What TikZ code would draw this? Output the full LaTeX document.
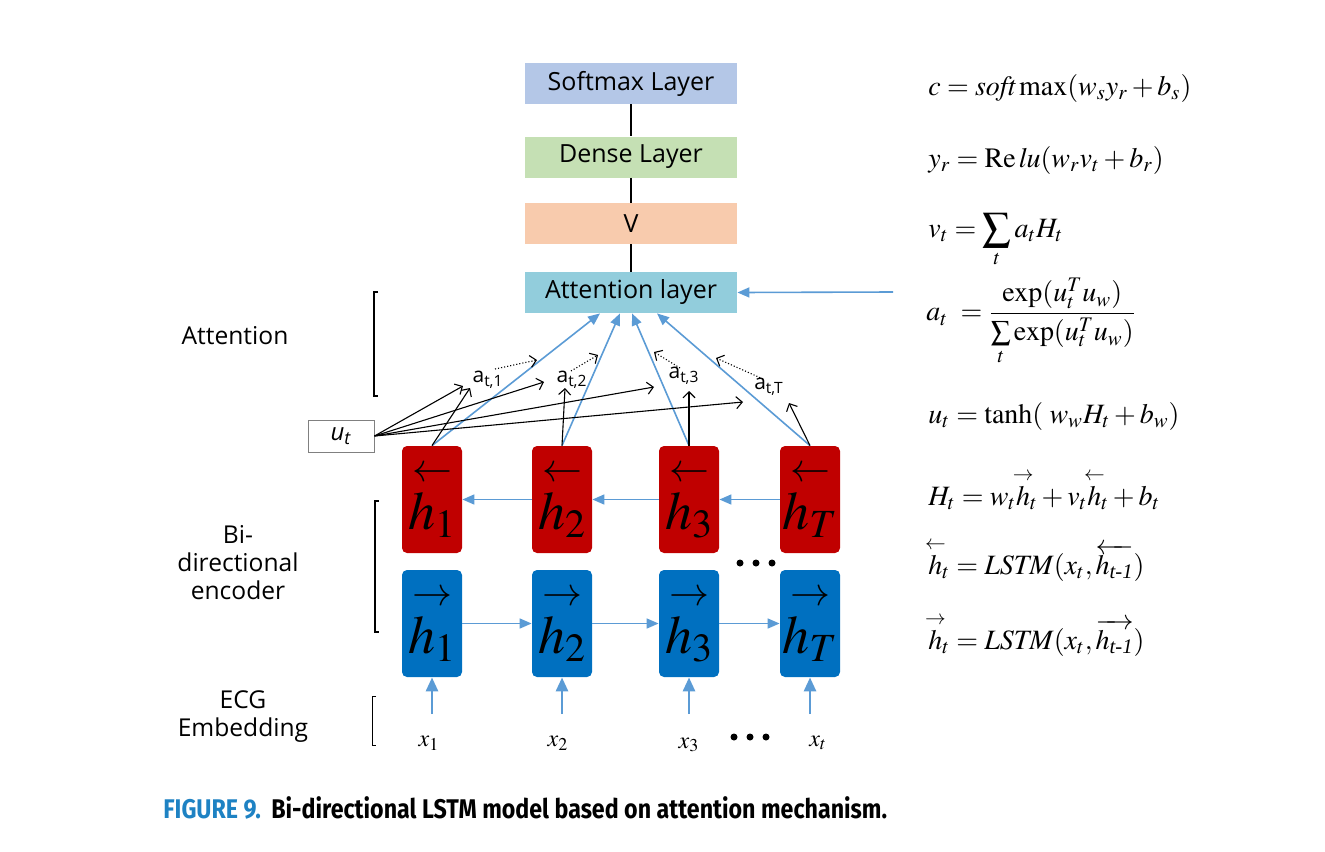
\documentclass[tikz,border=0pt]{standalone}
\usepackage{mathptmx}
\usepackage{amsmath}
\usepackage{graphicx}
\usepackage{fontspec}
\setmainfont{Liberation Serif}
\newfontfamily\lab{Open Sans}
\newfontfamily\capf{Fira Sans}
\usetikzlibrary{calc,arrows.meta}
\newcommand{\sra}[1]{\overset{\makebox[0pt]{$\scriptstyle\rightarrow$}}{#1}}
\newcommand{\sla}[1]{\overset{\makebox[0pt]{$\scriptstyle\leftarrow$}}{#1}}
\definecolor{smx}{RGB}{180,199,231}
\definecolor{dns}{RGB}{197,224,180}
\definecolor{vv}{RGB}{248,203,173}
\definecolor{attc}{RGB}{146,205,220}
\definecolor{redb}{RGB}{192,0,0}
\definecolor{blueb}{RGB}{0,112,192}
\definecolor{arrc}{RGB}{91,155,213}
\definecolor{capblue}{RGB}{30,130,195}
\tikzset{
  layer/.style={fill=#1, minimum width=106pt, minimum height=20.5pt, inner sep=0pt,
    font=\lab\fontsize{12.5}{14}\selectfont},
  hbox/.style={fill=#1, rounded corners=2.5pt, minimum width=30pt, minimum height=53.5pt, inner sep=0pt,
    font=\fontsize{27}{27}\selectfont},
  bluearr/.style={draw=arrc, line width=0.8pt, -{Triangle[length=6pt,width=5pt]}},
  thickarr/.style={draw=arrc, line width=1.4pt, -{Triangle[length=7pt,width=6pt]}},
  blkarr/.style={draw=black, line width=0.55pt, -{Straight Barb[length=3pt,width=6pt]}},
  dotarr/.style={draw=black, line width=0.55pt, densely dotted, -{Straight Barb[length=3pt,width=6pt]}},
  plainline/.style={draw=black, line width=0.6pt},
  brk/.style={draw=black, line width=1.3pt},
  sidelab/.style={font=\lab\fontsize{12.3}{14}\selectfont, align=center, inner sep=0pt},
  alab/.style={font=\lab\fontsize{10.5}{12}\selectfont, inner sep=0pt},
  eq/.style={anchor=west, inner sep=0pt, font=\fontsize{14}{16}\selectfont},
  xlab/.style={inner sep=0pt, font=\fontsize{12}{14}\selectfont},
  dotc/.style={fill=black, circle, minimum size=3.5pt, inner sep=0pt}
}
\begin{document}
\begin{tikzpicture}[x=0.5pt,y=-0.5pt]
\useasboundingbox (0,0) rectangle (1325,851);
% top layers
\node[layer=smx] (soft) at (631,83.5) {Softmax Layer};
\node[layer=dns] (dense) at (631,157) {Dense Layer};
\node[layer=vv] (v) at (631,223.5) {V};
\node[layer=attc] (att) at (631,292.5) {Attention layer};
\draw[plainline] (soft.south) -- (dense.north);
\draw[plainline] (dense.south) -- (v.north);
\draw[plainline] (v.south) -- (att.north);
\coordinate (rin) at (893,292);
\draw[bluearr] (rin) -- (att.east);
% hidden boxes
\node[hbox=redb] (r1) at (432,499.5) {$\overset{\scriptstyle\leftarrow}{h_1}$};
\node[hbox=redb] (r2) at (562,499.5) {$\overset{\scriptstyle\leftarrow}{h_2}$};
\node[hbox=redb] (r3) at (689,499.5) {$\overset{\scriptstyle\leftarrow}{h_3}$};
\node[hbox=redb] (r4) at (810,499.5) {$\overset{\scriptstyle\leftarrow}{h_T}$};
\node[hbox=blueb] (b1) at (432,623.5) {$\overset{\scriptstyle\rightarrow}{h_1}$};
\node[hbox=blueb] (b2) at (562,623.5) {$\overset{\scriptstyle\rightarrow}{h_2}$};
\node[hbox=blueb] (b3) at (689,623.5) {$\overset{\scriptstyle\rightarrow}{h_3}$};
\node[hbox=blueb] (b4) at (810,623.5) {$\overset{\scriptstyle\rightarrow}{h_T}$};
\draw[bluearr] (r4) -- (r3);
\draw[bluearr] (r3) -- (r2);
\draw[bluearr] (r2) -- (r1);
\draw[bluearr] (b1) -- (b2);
\draw[bluearr] (b2) -- (b3);
\draw[bluearr] (b3) -- (b4);
% dots
\node[dotc] (d1) at (740,563) {};
\node[dotc] (d2) at (756,563) {};
\node[dotc] (d3) at (772,563) {};
\node[dotc] (e1) at (734,737) {};
\node[dotc] (e2) at (750,737) {};
\node[dotc] (e3) at (766,737) {};
% inputs
\node[xlab] (x1) at (429,743) {$x_1$};
\node[xlab] (x2) at (558,743) {$x_2$};
\node[xlab] (x3) at (689,745) {$x_3$};
\node[xlab] (x4) at (818,743) {$x_t$};
\coordinate (i1) at (432,714);
\coordinate (i2) at (562,714);
\coordinate (i3) at (689,714);
\coordinate (i4) at (810,714);
\draw[thickarr] (i1) -- (b1.south);
\draw[thickarr] (i2) -- (b2.south);
\draw[thickarr] (i3) -- (b3.south);
\draw[thickarr] (i4) -- (b4.south);
% attention weights
\node[alab] (a1) at (488,380) {a\textsubscript{t,1}};
\node[alab] (a2) at (572,380) {a\textsubscript{t,2}};
\node[alab] (a3) at (684,376) {a\textsubscript{t,3}};
\node[alab] (a4) at (769,387) {a\textsubscript{t,T}};
% blue lines to attention layer
\draw[bluearr] (r1.north) -- ($(att.south)+(-31,0)$);
\draw[bluearr] (r2.north) -- ($(att.south)+(-11,0)$);
\draw[bluearr] (r3.north) -- ($(att.south)+(1,0)$);
\draw[bluearr] (r4.north) -- ($(att.south)+(26,0)$);
% u_t
\node[draw=black!50, line width=0.5pt, minimum width=33pt, minimum height=16pt, inner sep=0pt,
  font=\lab\itshape\fontsize{12}{13}\selectfont] (ut) at (341,436) {u\textsubscript{t}};
\coordinate (u1) at (463,386);
\coordinate (u2) at (544,382);
\coordinate (u3) at (654,387);
\coordinate (u4) at (743,402);
\draw[blkarr] (ut.east) -- (u1);
\draw[blkarr] (ut.east) -- (u2);
\draw[blkarr] (ut.east) -- (u3);
\draw[blkarr] (ut.east) -- (u4);
% up arrows from hidden to weights
\coordinate (w1) at (470,388);
\coordinate (w2) at (565,388);
\coordinate (w3) at (689,391);
\coordinate (w4) at (789,403);
\draw[blkarr] (r1.north) -- (w1);
\draw[blkarr] (r2.north) -- (w2);
\draw[blkarr] (r3.north) -- (w3);
\draw[blkarr] (r4.north) -- (w4);
% dotted arrows
\coordinate (s1) at (495,369);
\coordinate (t1) at (537,360);
\coordinate (s2) at (571,371);
\coordinate (t2) at (598,355);
\coordinate (s3) at (680,368);
\coordinate (t3) at (654,352);
\coordinate (s4) at (763,379);
\coordinate (t4) at (716,358);
\draw[dotarr] (s1) -- (t1);
\draw[dotarr] (s2) -- (t2);
\draw[dotarr] (s3) -- (t3);
\draw[dotarr] (s4) -- (t4);
% side labels and brackets
\node[sidelab] (lat) at (235,336) {Attention};
\node[sidelab] (lbi) at (238,563) {Bi-\\directional\\encoder};
\node[sidelab] (lecg) at (243,717) {ECG\\Embedding};
\draw[brk] (378,292) -- (374,292) -- (374,396) -- (378,396);
\draw[brk] (379,501) -- (375,501) -- (375,632) -- (379,632);
\draw[draw=black, line width=0.5pt] (376,696) -- (372.5,696) -- (372.5,745) -- (376,745);
% equations
\node[eq] (q1) at (928,88) {$c = \mathit{soft}\max(w_s y_r + b_s)$};
\node[eq] (q2) at (928,160) {$y_r = \mathrm{Re}\,\mathit{lu}(w_r v_t + b_r)$};
\node[eq] (q3) at (928,240) {$\displaystyle v_t = \sum_t a_t H_t$};
\node[eq] (q4) at (926,322) {$\displaystyle a_t \;= \frac{\exp(u_t^T u_w)}{\sum\limits_t\exp(u_t^T u_w)}$};
\node[eq] (q5) at (928,416) {$u_t = \tanh(\;w_w H_t + b_w)$};
\node[eq] (q6) at (928,490) {$H_t = w_t\sra{h}_t + v_t\sla{h}_t + b_t$};
\node[eq] (q7) at (928,560) {$\sla{h}_t = \mathit{LSTM}(x_t, \overleftarrow{h_{\textit{t-1}}})$};
\node[eq] (q8) at (928,635) {$\sra{h}_t = \mathit{LSTM}(x_t, \overrightarrow{h_{\textit{t-1}}})$};
% caption
\node[anchor=west, inner sep=0pt] (cap) at (163,808) {\capf\bfseries\fontsize{13.5}{15}\selectfont\scalebox{0.86}[1]{\textcolor{capblue}{FIGURE 9.}\hspace{6pt}Bi-directional LSTM model based on attention mechanism.}};
\end{tikzpicture}
\end{document}
